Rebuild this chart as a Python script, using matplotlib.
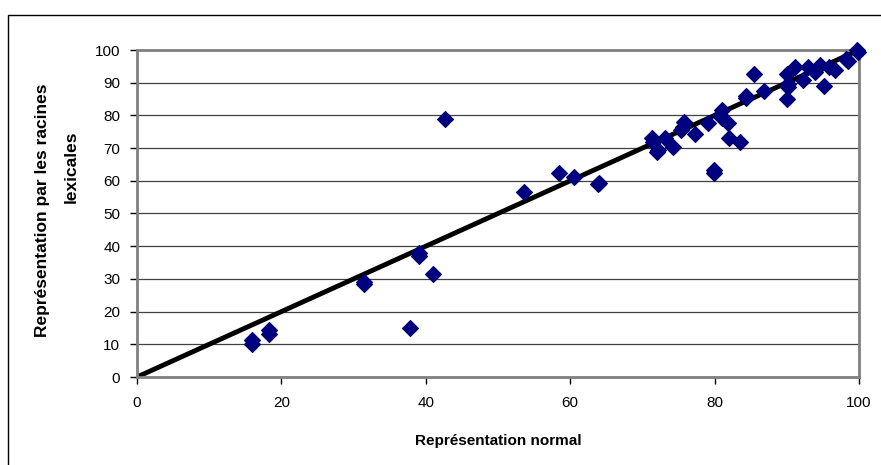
import matplotlib
matplotlib.use("Agg")
import matplotlib.pyplot as plt
from matplotlib.patches import Rectangle

plt.rcParams['font.family'] = ['Liberation Sans', 'DejaVu Sans']

# points (x = normal, y = racines lexicales)
x_norm = [15.9, 15.9, 18.3, 18.3, 31.4, 31.4, 37.8, 39.0, 39.0, 41.0, 42.7,
          53.6, 58.5, 60.5, 63.8, 64.0,
          71.3, 71.5, 72.0, 72.2, 73.1, 74.3, 75.4, 75.6, 75.7, 77.3,
          79.1, 79.9, 79.9, 80.7, 81.0, 81.0, 81.9, 82.0, 83.5,
          84.4, 84.4, 85.5, 86.8, 90.0, 90.0, 90.2, 90.2, 91.1, 92.3,
          93.0, 93.9, 94.6, 95.1, 95.8, 96.7, 98.2, 98.5, 99.7, 99.9]
y_rac = [10.2, 11.2, 13.3, 14.3, 28.3, 29.0, 15.0, 37.0, 37.8, 31.5, 78.8,
         56.5, 62.3, 61.2, 59.0, 59.3,
         73.0, 72.0, 68.9, 69.5, 73.0, 70.4, 75.5, 76.5, 78.0, 74.2,
         77.8, 62.3, 63.2, 80.1, 81.7, 79.1, 77.6, 73.0, 72.0,
         85.4, 86.0, 92.6, 87.6, 92.8, 85.0, 88.8, 89.5, 94.9, 90.8,
         94.9, 93.4, 95.4, 89.0, 94.9, 93.9, 97.4, 96.7, 100.0, 99.3]

x_ticks = [0, 20, 40, 60, 80, 100]
y_ticks = [0, 10, 20, 30, 40, 50, 60, 70, 80, 90, 100]
line_x = [0, 100]
line_y = [0, 100]

fig = plt.figure(figsize=(8.81, 4.65), dpi=100)
ax = fig.add_axes([137/881, 1 - 377/465, (859-137)/881, (377-50)/465])

ax.plot(x_norm, y_rac, 'D', color='#000080', markersize=8,
        markeredgecolor='#000070', markeredgewidth=0.8, zorder=3, clip_on=False)
ax.plot(line_x, line_y, '-', color='black', linewidth=3.5, zorder=2)

ax.set_xlim(0, 100)
ax.set_ylim(0, 100)
ax.set_xticks(x_ticks)
ax.set_yticks(y_ticks)
ax.tick_params(labelsize=11, length=5, width=1, color='black')
ax.tick_params(axis='x', pad=9)
ax.tick_params(axis='y', pad=7)
ax.grid(axis='y', color='#404040', linewidth=0.9)
ax.set_axisbelow(True)
for s in ax.spines.values():
    s.set_color('#808080')
    s.set_linewidth(2)

ax.set_xlabel('Représentation normal', fontsize=11, fontweight='bold', labelpad=17)

# y label, two columns as in the original
fig.text(43/881, 1 - 210/465, 'Représentation par les racines', rotation=90,
         ha='center', va='center', fontsize=12.5, fontweight='bold')
fig.text(71/881, 1 - 167/465, 'lexicales', rotation=90,
         ha='center', va='center', fontsize=12.5, fontweight='bold')

fig.patches.append(Rectangle((8/881, -0.1), 1.1, 1 - 15/465 + 0.1,
                             transform=fig.transFigure, fill=False,
                             edgecolor='black', linewidth=1))

fig.savefig('out.png', dpi=100)
